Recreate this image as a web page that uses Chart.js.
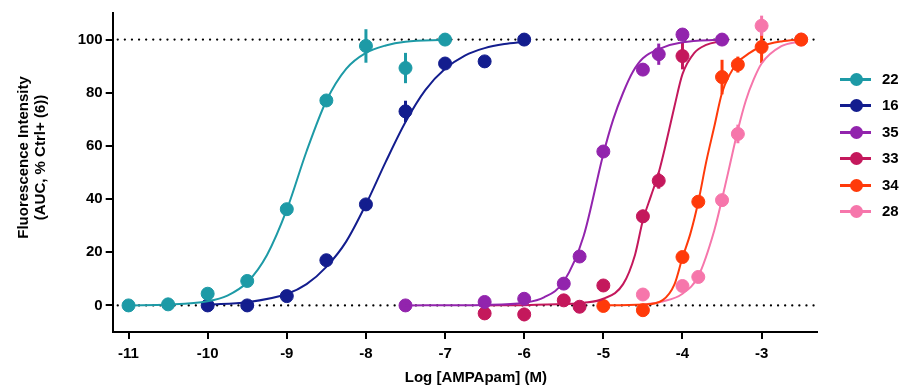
<!DOCTYPE html>
<html>
<head>
<meta charset="utf-8">
<script src="https://cdn.jsdelivr.net/npm/chart.js@4.4.0/dist/chart.umd.min.js"></script>
<style>
  html, body { margin: 0; padding: 0; background: #fff; }
  #wrap { position: relative; width: 906px; height: 389px; }
  #legend { position: absolute; left: 840px; top: 66px; font: bold 15px "Liberation Sans", Arial, sans-serif; color: #000; }
  .item { position: relative; height: 26.4px; }
  .item .ln { position: absolute; left: 0; top: 12px; width: 31px; height: 3px; }
  .item .dot { position: absolute; left: 10px; top: 7px; width: 13px; height: 13px; border-radius: 50%; }
  .item .lb { position: absolute; left: 42px; top: 4px; }
</style>
</head>
<body>
<div id="wrap">
  <canvas id="chart" width="906" height="389"></canvas>
  <div id="legend"></div>
</div>
<script>
// axis ticks and titles
const xTicks = [-11, -10, -9, -8, -7, -6, -5, -4, -3];
const yTicks = [0, 20, 40, 60, 80, 100];
const refLines = [0, 100];
const xTitle = 'Log [AMPApam] (M)';
const yTitle = ['Fluorescence Intensity', '(AUC, % Ctrl+ (6))'];

// compound names + colours
const names = ['22', '16', '35', '33', '34', '28'];
const colors = ['#1d9aa6', '#131d8e', '#9224ad', '#c4185c', '#ff3a0a', '#f676ab'];

// measured points (log dose, response %, SEM)
const dose22 = [-11, -10.5, -10, -9.5, -9, -8.5, -8, -7.5, -7];
const resp22 = [0, 0.4, 4.4, 9.2, 36.2, 77.1, 97.6, 89.3, 100];
const err22  = [0, 0, 0, 0, 0, 0, 6.3, 5.7, 0];

const dose16 = [-10, -9.5, -9, -8.5, -8, -7.5, -7, -6.5, -6];
const resp16 = [0, 0, 3.5, 17, 38, 73, 91, 91.8, 100];
const err16  = [0, 0, 0, 0, 0, 4, 0, 0, 0];

const dose35 = [-7.5, -6.5, -6, -5.5, -5.3, -5, -4.5, -4.3, -4, -3.5];
const resp35 = [0, 1.3, 2.5, 8.2, 18.4, 57.9, 88.7, 94.5, 101.9, 100];
const err35  = [0, 0, 0, 0, 0, 0, 0, 4, 0, 0];

const dose33 = [-6.5, -6, -5.5, -5.3, -5, -4.5, -4.3, -4];
const resp33 = [-3, -3.4, 1.9, -0.5, 7.5, 33.5, 46.9, 93.8];
const err33  = [0, 2.5, 0, 0, 0, 2.5, 3, 5];

const dose34 = [-5, -4.5, -4, -3.8, -3.5, -3.3, -3, -2.5];
const resp34 = [-0.2, -1.8, 18.2, 39, 85.9, 90.6, 97.2, 100];
const err34  = [0, 0, 0, 1.5, 6.5, 3, 6, 0];

const dose28 = [-4.5, -4, -3.8, -3.5, -3.3, -3, -2.5];
const resp28 = [4.1, 7.3, 10.7, 39.6, 64.5, 105.2, 100];
const err28  = [0, 0, 0, 2, 3.5, 3.8, 0];

// fitted curves
const fitX22 = [-11, -10.5, -10, -9.75, -9.5, -9.25, -9, -8.75, -8.5, -8.25, -8, -7.75, -7.5, -7];
const fitY22 = [0, 0.3, 1.6, 3.7, 8.7, 19, 36, 58, 77, 89, 95, 97.8, 99.2, 99.9];

const fitX16 = [-10, -9.5, -9, -8.75, -8.5, -8.25, -8, -7.75, -7.5, -7.25, -7, -6.75, -6.5, -6.25, -6];
const fitY16 = [0.3, 1.2, 4.3, 8, 14.5, 24, 38, 54, 69, 81, 89, 94, 96.8, 98.3, 99.1];

const fitX35 = [-7.5, -6.5, -6, -5.75, -5.5, -5.25, -5, -4.875, -4.75, -4.625, -4.5, -4.25, -4, -3.5];
const fitY35 = [0, 0.2, 1, 3, 9, 26, 57, 70, 80, 88, 93, 97, 99, 100];

const fitX33 = [-6.5, -6, -5.5, -5.25, -5, -4.75, -4.6, -4.5, -4.4, -4.3, -4.2, -4.1, -4, -3.85, -3.7, -3.5];
const fitY33 = [0, 0.1, 0.5, 1, 2.5, 8, 19, 32, 41, 50, 62, 75, 87, 95, 98, 99.5];

const fitX34 = [-5, -4.5, -4.25, -4.1, -4, -3.9, -3.8, -3.7, -3.6, -3.5, -3.4, -3.3, -3.15, -3, -2.75, -2.5];
const fitY34 = [0, 0.3, 2, 8, 18, 27, 39, 54, 67, 80, 87, 91.5, 95, 97.5, 99.3, 100];

const fitX28 = [-4.5, -4.25, -4, -3.8, -3.6, -3.5, -3.4, -3.3, -3.2, -3.1, -3, -2.75, -2.5];
const fitY28 = [0.3, 1.5, 4.4, 11, 28, 40, 53, 66, 77, 85, 91, 97.5, 99.4];

const doses = [dose22, dose16, dose35, dose33, dose34, dose28];
const resps = [resp22, resp16, resp35, resp33, resp34, resp28];
const errs = [err22, err16, err35, err33, err34, err28];
const fitXs = [fitX22, fitX16, fitX35, fitX33, fitX34, fitX28];
const fitYs = [fitY22, fitY16, fitY35, fitY33, fitY34, fitY28];

const fontFamily = '"Liberation Sans", Arial, sans-serif';
const font = { family: fontFamily, weight: 'bold', size: 15 };

const datasets = [];
names.forEach((n, i) => {
  datasets.push({
    type: 'line',
    label: n + ' fit',
    data: fitXs[i].map((x, j) => ({ x: x, y: fitYs[i][j] })),
    borderColor: colors[i],
    borderWidth: 2,
    pointRadius: 0,
    fill: false,
    cubicInterpolationMode: 'monotone',
    clip: false
  });
  datasets.push({
    type: 'scatter',
    label: n,
    data: doses[i].map((x, j) => ({ x: x, y: resps[i][j] })),
    backgroundColor: colors[i],
    borderColor: colors[i],
    pointRadius: 6.5,
    pointHoverRadius: 6.5,
    showLine: false,
    clip: false
  });
});

// dotted 0/100 lines + error bars, drawn under the markers
const extras = {
  id: 'extras',
  beforeDatasetsDraw(chart) {
    const { ctx, scales: { x, y } } = chart;
    ctx.save();
    ctx.strokeStyle = '#000';
    ctx.lineWidth = 2.2;
    ctx.lineCap = 'round';
    ctx.setLineDash([0.1, 7]);
    refLines.forEach(v => {
      const py = y.getPixelForValue(v);
      ctx.beginPath();
      ctx.moveTo(x.left + 5, py);
      ctx.lineTo(x.right, py);
      ctx.stroke();
    });
    ctx.setLineDash([]);
    ctx.lineCap = 'butt';
    ctx.lineWidth = 3;
    names.forEach((n, i) => {
      ctx.strokeStyle = colors[i];
      doses[i].forEach((d, j) => {
        const e = errs[i][j];
        if (!e) return;
        const px = x.getPixelForValue(d);
        ctx.beginPath();
        ctx.moveTo(px, y.getPixelForValue(resps[i][j] - e));
        ctx.lineTo(px, y.getPixelForValue(resps[i][j] + e));
        ctx.stroke();
      });
    });
    ctx.restore();
  },
  // axis titles placed by hand, the figure has them off-centre
  afterDraw(chart) {
    const { ctx, chartArea: a } = chart;
    ctx.save();
    ctx.fillStyle = '#000';
    ctx.font = 'bold 15px ' + fontFamily;
    ctx.textAlign = 'center';
    ctx.textBaseline = 'middle';
    ctx.fillText(xTitle, (a.left + a.right) / 2 + 11, chart.height - 11);
    const cy = (a.top + a.bottom) / 2 - 15;
    [24, 41].forEach((lx, k) => {
      ctx.save();
      ctx.translate(lx, cy);
      ctx.rotate(-Math.PI / 2);
      ctx.fillText(yTitle[k], 0, 0);
      ctx.restore();
    });
    ctx.restore();
  }
};

new Chart(document.getElementById('chart'), {
  data: { datasets: datasets },
  options: {
    responsive: false,
    animation: false,
    layout: { padding: { top: 13, right: 89, left: 0, bottom: 0 } },
    plugins: { legend: { display: false }, tooltip: { enabled: false } },
    scales: {
      x: {
        type: 'linear',
        min: -11.2,
        max: -2.3,
        afterBuildTicks: axis => { axis.ticks = xTicks.map(v => ({ value: v })); },
        afterFit: axis => { axis.height = 57; },
        border: { color: '#000', width: 2 },
        grid: { drawOnChartArea: false, color: '#000', lineWidth: 2, tickLength: 7 },
        ticks: { color: '#000', font: font, padding: 6 }
      },
      y: {
        type: 'linear',
        min: -10,
        max: 110,
        afterBuildTicks: axis => { axis.ticks = yTicks.map(v => ({ value: v })); },
        afterFit: axis => { axis.width = 112.7; },
        border: { color: '#000', width: 2 },
        grid: { drawOnChartArea: false, color: '#000', lineWidth: 2, tickLength: 7 },
        ticks: { color: '#000', font: font, padding: 3 }
      }
    }
  },
  plugins: [extras]
});

// legend: line with dot, as in the figure
const legend = document.getElementById('legend');
names.forEach((n, i) => {
  const it = document.createElement('div');
  it.className = 'item';
  it.innerHTML = '<div class="ln" style="background:' + colors[i] + '"></div>' +
    '<div class="dot" style="background:' + colors[i] + '"></div>' +
    '<div class="lb">' + n + '</div>';
  legend.appendChild(it);
});
</script>
</body>
</html>
